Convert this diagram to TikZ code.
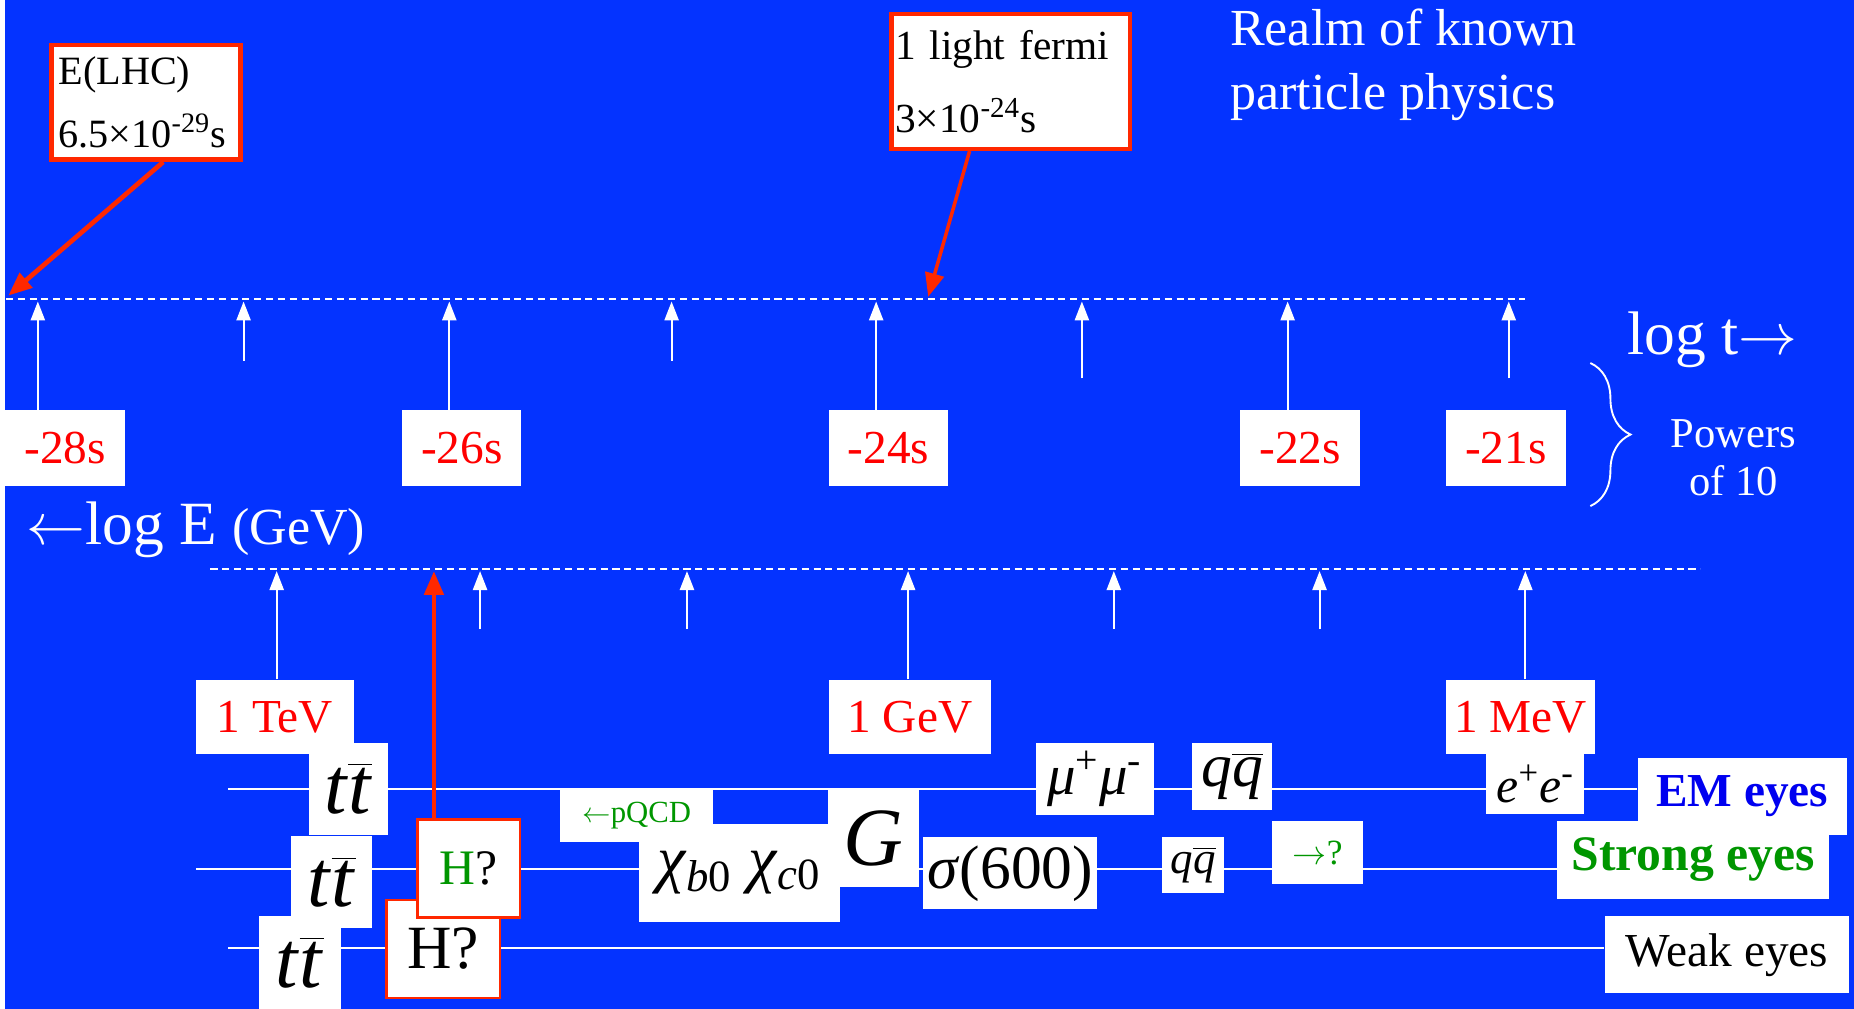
\documentclass[tikz,border=0pt]{standalone}
\usepackage{fontspec}
\setmainfont{Liberation Serif}
\usetikzlibrary{arrows.meta,calc,backgrounds,decorations.pathreplacing}
\definecolor{slideBlue}{RGB}{4,51,255}
\definecolor{labelRed}{RGB}{255,0,0}
\definecolor{calloutRed}{RGB}{255,40,0}
\definecolor{eyeGreen}{RGB}{0,150,0}
\definecolor{eyeBlue}{RGB}{0,0,240}
\newcommand{\ttbar}{\textit{t}$\overline{\mbox{\textit{t}}}$}
\newcommand{\qqbar}{\textit{q}$\overline{\mbox{\textit{q}}}$}
\newcommand{\fsz}[1]{\fontsize{#1}{#1}\selectfont}

\begin{document}
\begin{tikzpicture}[x=0.5pt, y=-0.5pt,
    whitebox/.style={fill=white, inner sep=0pt},
    timebox/.style={whitebox, text=labelRed, font=\fsz{20}, minimum width=50.5pt, minimum height=32pt},
    callout/.style={fill=white, draw=calloutRed, line width=2pt},
    uptick/.style={white, line width=0.8pt, -{Triangle[length=8pt,width=6pt]}},
    axisline/.style={white, line width=0.8pt, dash pattern=on 3pt off 2pt},
    eyeline/.style={white, line width=0.8pt},
    pointer/.style={calloutRed, line width=2pt, -{Triangle[length=10pt,width=8pt]}}]
  \useasboundingbox (0,0) rectangle (1568,853);

  \node[anchor=west, text=white, align=left, inner sep=0pt, font=\fontsize{22}{27}\selectfont] (realm) at (1040,55) {Realm of known\\particle physics};
  \node[callout, font=\fontsize{17}{26.5}\selectfont, align=left, text width=74pt, minimum height=48.5pt, inner xsep=3pt] (lhc) at (123.5,86.5) {E(LHC)\\6.5×10\textsuperscript{-29}s};
  \node[callout, line width=1.75pt, font=\fontsize{17.5}{31}\selectfont, align=left, text width=98pt, minimum height=57pt, inner xsep=1.5pt] (fermi) at (855,69) {1 light fermi\\3×10\textsuperscript{-24}s};

  \draw[axisline] (5,253) -- (1290,253);
  \draw[axisline] (178,481) -- (1438,481);
  \coordinate (lhctip) at (7,250);
  \coordinate (fermitip) at (785,251);
  \draw[pointer] ($(lhc.south)+(14.5,0)$) -- (lhctip);
  \draw[pointer, line width=1.5pt] ($(fermi.south)+(-35,0)$) -- (fermitip);

  \node[timebox] (t28) at (55,379) {-28s};
  \node[timebox] (t26) at (390.5,379) {-26s};
  \node[timebox] (t24) at (751.5,379) {-24s};
  \node[timebox] (t22) at (1099.5,379) {-22s};
  \node[timebox] (t21) at (1273.5,379) {-21s};
  \foreach \x/\b in {32/t28,380/t26,741/t24,1089/t22}{
    \coordinate (tk) at (\x,255);
    \draw[uptick] (tk |- \b.north) -- (tk);
  }
  \foreach \x/\y in {206/305,568/305,915/320,1276/320}
    \draw[uptick] (\x,\y) -- (\x,255);

  \node[text=white, inner sep=0pt, font=\fsz{26}] (logt) at (1448,287) {log t$\rightarrow$};
  \draw[white, line width=0.8pt, decorate, decoration={brace, amplitude=17pt}] (1345,307) -- (1345,428);
  \node[text=white, align=center, inner sep=0pt, font=\fontsize{18}{20.5}\selectfont] (powers) at (1466,387) {Powers\\of 10};
  \node[anchor=west, text=white, inner sep=0pt] (loge) at (22,448) {\fsz{26}$\leftarrow$log E \fsz{22}(GeV)};

  \node[timebox, minimum width=66.5pt, minimum height=31.5pt] (tev) at (232.5,606.5) {1 TeV};
  \node[timebox, minimum width=68.5pt, minimum height=31.5pt] (gev) at (769.5,606.5) {1 GeV};
  \node[timebox, minimum width=63pt, minimum height=31.5pt] (mev) at (1286,606.5) {1 MeV};
  \foreach \x/\b in {234/tev,768/gev,1290/mev}{
    \coordinate (tk) at (\x,483);
    \draw[uptick] (tk |- \b.north) -- (tk);
  }
  \foreach \x in {406,581,942,1116}
    \draw[uptick] (\x,532) -- (\x,483);

  % EM row
  \node[whitebox, minimum width=33.5pt, minimum height=39pt, font=\fsz{34}] (tt1) at (294.5,667) {\ttbar};
  \node[whitebox, minimum width=50pt, minimum height=30.5pt, font=\fsz{24}] (mumu) at (926,658.5) {\textit{μ}\textsuperscript{+}\textit{μ}\textsuperscript{-}};
  \node[whitebox, minimum width=34pt, minimum height=28.5pt, font=\fsz{26}] (qq1) at (1042,656.5) {\qqbar};
  \node[whitebox, minimum width=41.5pt, minimum height=25pt, font=\fsz{21}] (ee) at (1298.5,663) {\textit{e}\textsuperscript{+}\textit{e}\textsuperscript{-}};
  \node[whitebox, minimum width=88.5pt, minimum height=32.5pt, text=eyeBlue, font=\fsz{20}\bfseries] (em) at (1473.5,673.5) {EM eyes};

  % strong row
  \node[whitebox, minimum width=34.5pt, minimum height=39pt, font=\fsz{34}] (tt2) at (280.5,746) {\ttbar};
  \node[whitebox, minimum width=85pt, minimum height=41.5pt, font=\fsz{27}] (chi) at (625,738) {\textit{χ}\textsubscript{\textit{b}0} \textit{χ}\textsubscript{\textit{c}0}};
  \node[whitebox, minimum width=38.5pt, minimum height=41pt, font=\fsz{35}] (glue) at (738.5,709) {\textit{G}};
  \node[whitebox, minimum width=64.5pt, minimum height=22pt, text=eyeGreen, font=\fsz{13}] (pqcd) at (538.5,690) {$\leftarrow$pQCD};
  \node[whitebox, minimum width=73.5pt, minimum height=30.5pt, font=\fsz{26}] (sigma) at (854.5,738.5) {\textit{σ}(600)};
  \node[whitebox, minimum width=26pt, minimum height=23.5pt, font=\fsz{19}] (qq2) at (1009,731.5) {\qqbar};
  \node[whitebox, minimum width=38.5pt, minimum height=27pt, text=eyeGreen, font=\fsz{15}] (unk) at (1114.5,721) {$\rightarrow$?};
  \node[whitebox, minimum width=115pt, minimum height=33pt, text=eyeGreen, font=\fsz{21}\bfseries] (strong) at (1432,727) {Strong eyes};

  % weak row
  \node[whitebox, minimum width=34.5pt, minimum height=39pt, font=\fsz{34}] (tt3) at (253.5,814) {\ttbar};
  \node[callout, line width=1pt, inner sep=0pt, minimum width=48pt, minimum height=41.5pt, font=\fsz{26}] (hw) at (375,802.5) {H?};
  \node[callout, line width=1pt, inner sep=0pt, minimum width=43.5pt, minimum height=41.5pt, font=\fsz{21}] (hs) at (396.5,734.5) {\textcolor{eyeGreen}{H}?};
  \node[whitebox, minimum width=103.5pt, minimum height=32.5pt, font=\fsz{20}] (weak) at (1460.5,807.5) {Weak eyes};

  \coordinate (hx) at (367,483);
  \draw[pointer] (hx |- hs.north) -- (hx);

  \begin{scope}[on background layer]
    \fill[white] (0,0) rectangle (1568,853);
    \fill[slideBlue] (4,0) rectangle (1568,853);
    \coordinate (emstart) at (193,667);
    \coordinate (strongstart) at (166,735);
    \coordinate (weakstart) at (193,802);
    \draw[eyeline] (emstart) -- (emstart -| em.west);
    \draw[eyeline] (strongstart) -- (strongstart -| strong.west);
    \draw[eyeline] (weakstart) -- (weakstart -| weak.west);
  \end{scope}
\end{tikzpicture}
\end{document}
